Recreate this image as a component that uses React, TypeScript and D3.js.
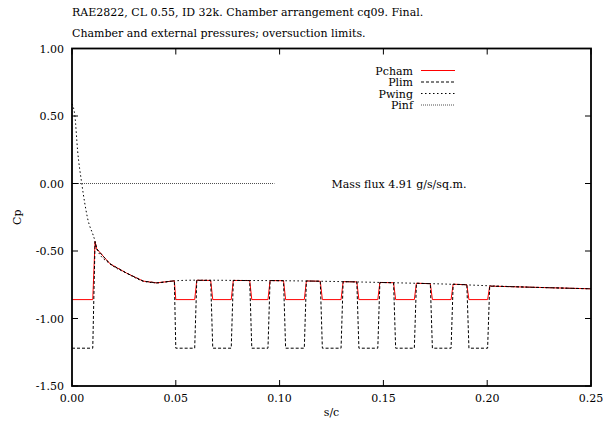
import React from "react";
import * as d3 from "d3";

const W = 613, H = 425;
const M = { left: 72, right: 591, top: 48.5, bottom: 386 };

const titleLines = [
  "RAE2822, CL 0.55, ID 32k. Chamber arrangement cq09. Final.",
  "Chamber and external pressures; oversuction limits.",
];
const xTicks = [0, 0.05, 0.1, 0.15, 0.2, 0.25];
const yTicks = [1.0, 0.5, 0.0, -0.5, -1.0, -1.5];
const massFluxLabel = "Mass flux 4.91 g/s/sq.m.";

// Chamber pressure (x, Cp)
const pchamX = [0, 0.0100, 0.0111, 0.0119, 0.0183, 0.0263, 0.0343, 0.0408, 0.0493, 0.0500, 0.0591, 0.0601, 0.0668, 0.0678, 0.0767, 0.0777, 0.0856, 0.0866, 0.0944, 0.0954, 0.1019, 0.1029, 0.1119, 0.1129, 0.1196, 0.1206, 0.1296, 0.1306, 0.1372, 0.1382, 0.1473, 0.1483, 0.1549, 0.1559, 0.1649, 0.1659, 0.1726, 0.1736, 0.1826, 0.1836, 0.1902, 0.1912, 0.2002, 0.2012, 0.2250, 0.2500];
const pchamY = [-0.86, -0.86, -0.43, -0.484, -0.595, -0.664, -0.723, -0.736, -0.721, -0.86, -0.86, -0.717, -0.718, -0.86, -0.86, -0.718, -0.719, -0.86, -0.86, -0.719, -0.720, -0.86, -0.86, -0.722, -0.724, -0.86, -0.86, -0.727, -0.729, -0.86, -0.86, -0.733, -0.735, -0.86, -0.86, -0.739, -0.742, -0.86, -0.86, -0.746, -0.750, -0.86, -0.86, -0.760, -0.770, -0.780];
// Oversuction limit (same stations)
const plimY = [-1.22, -1.22, -0.43, -0.484, -0.595, -0.664, -0.723, -0.736, -0.721, -1.22, -1.22, -0.717, -0.718, -1.22, -1.22, -0.718, -0.719, -1.22, -1.22, -0.719, -0.720, -1.22, -1.22, -0.722, -0.724, -1.22, -1.22, -0.727, -0.729, -1.22, -1.22, -0.733, -0.735, -1.22, -1.22, -0.739, -0.742, -1.22, -1.22, -0.746, -0.750, -1.22, -1.22, -0.760, -0.770, -0.780];
// Wing external pressure
const pwingX = [0, 0.0014, 0.0027, 0.0047, 0.0074, 0.0111, 0.0119, 0.0183, 0.0263, 0.0343, 0.0408, 0.0493, 0.0600, 0.0800, 0.1000, 0.1200, 0.1400, 0.1600, 0.1800, 0.2000, 0.2250, 0.2500];
const pwingY = [0.59, 0.50, 0.244, 0.0, -0.25, -0.43, -0.484, -0.595, -0.664, -0.723, -0.736, -0.721, -0.716, -0.718, -0.720, -0.724, -0.730, -0.737, -0.745, -0.757, -0.770, -0.780];
// Free-stream pressure
const pinfX = [0, 0.0975];
const pinfY = [0, 0];

const legendNames = ["Pcham", "Plim", "Pwing", "Pinf"];

const FONT = "'DejaVu Serif', serif";
const FS = 11;

export default function App() {
  const x = d3.scaleLinear().domain([0, 0.25]).range([M.left, M.right]);
  const y = d3.scaleLinear().domain([-1.5, 1.0]).range([M.bottom, M.top]);
  const line = d3
    .line<[number, number]>()
    .x((d) => x(d[0]))
    .y((d) => y(d[1]));
  const smooth = d3
    .line<[number, number]>()
    .x((d) => x(d[0]))
    .y((d) => y(d[1]))
    .curve(d3.curveMonotoneX);
  const zip = (xs: number[], ys: number[]) => xs.map((v, i) => [v, ys[i]] as [number, number]);

  const series = [
    { name: "Pcham", d: line(zip(pchamX, pchamY)), stroke: "#ff0000", dash: undefined as string | undefined, w: 1 },
    { name: "Plim", d: line(zip(pchamX, plimY)), stroke: "#000", dash: "3,2", w: 1 },
    { name: "Pwing", d: smooth(zip(pwingX, pwingY)), stroke: "#000", dash: "1.5,2.5", w: 1 },
    { name: "Pinf", d: line(zip(pinfX, pinfY)), stroke: "#222", dash: "1,1", w: 0.8 },
  ];

  const legX1 = 421, legX2 = 455, legLabelX = 413;
  const legY = [70.5, 82, 93.5, 105];

  return (
    <svg
      width={W}
      height={H}
      style={{ position: "absolute", left: 0, top: 0, background: "#fff" }}
      fontFamily={FONT}
    >
      <rect x={0} y={0} width={W} height={H} fill="#fff" />
      {titleLines.map((t, i) => (
        <text key={i} x={72} y={16 + i * 21} fontSize={FS} fill="#000">
          {t}
        </text>
      ))}
      {series.map((s) => (
        <path key={s.name} d={s.d || ""} fill="none" stroke={s.stroke} strokeWidth={s.w} strokeDasharray={s.dash} />
      ))}
      {xTicks.map((t) => (
        <g key={"x" + t}>
          <line x1={x(t)} x2={x(t)} y1={M.bottom} y2={M.bottom - 6} stroke="#000" strokeWidth={1} />
          <line x1={x(t)} x2={x(t)} y1={M.top} y2={M.top + 6} stroke="#000" strokeWidth={1} />
          <text x={x(t)} y={402} fontSize={FS} textAnchor="middle">
            {t.toFixed(2)}
          </text>
        </g>
      ))}
      {yTicks.map((t) => (
        <g key={"y" + t}>
          <line x1={M.left} x2={M.left + 6} y1={y(t)} y2={y(t)} stroke="#000" strokeWidth={1} />
          <line x1={M.right} x2={M.right - 6} y1={y(t)} y2={y(t)} stroke="#000" strokeWidth={1} />
          <text x={64} y={y(t) + 4} fontSize={FS} textAnchor="end">
            {t.toFixed(2)}
          </text>
        </g>
      ))}
      <rect
        x={M.left}
        y={M.top}
        width={M.right - M.left}
        height={M.bottom - M.top}
        fill="none"
        stroke="#000"
        strokeWidth={1.8}
      />
      {series.map((s, i) => (
        <g key={"leg" + s.name}>
          <text x={legLabelX} y={legY[i] + 4} fontSize={FS} textAnchor="end">
            {legendNames[i]}
          </text>
          <line x1={legX1} x2={legX2} y1={legY[i]} y2={legY[i]} stroke={s.stroke} strokeWidth={s.w} strokeDasharray={s.dash} />
        </g>
      ))}
      <text x={x(0.125)} y={y(0) + 4} fontSize={FS}>
        {massFluxLabel}
      </text>
      <text x={(M.left + M.right) / 2} y={416} fontSize={FS} textAnchor="middle">
        s/c
      </text>
      <text
        transform={`translate(21,${(M.top + M.bottom) / 2}) rotate(-90)`}
        fontSize={FS}
        textAnchor="middle"
      >
        Cp
      </text>
    </svg>
  );
}
